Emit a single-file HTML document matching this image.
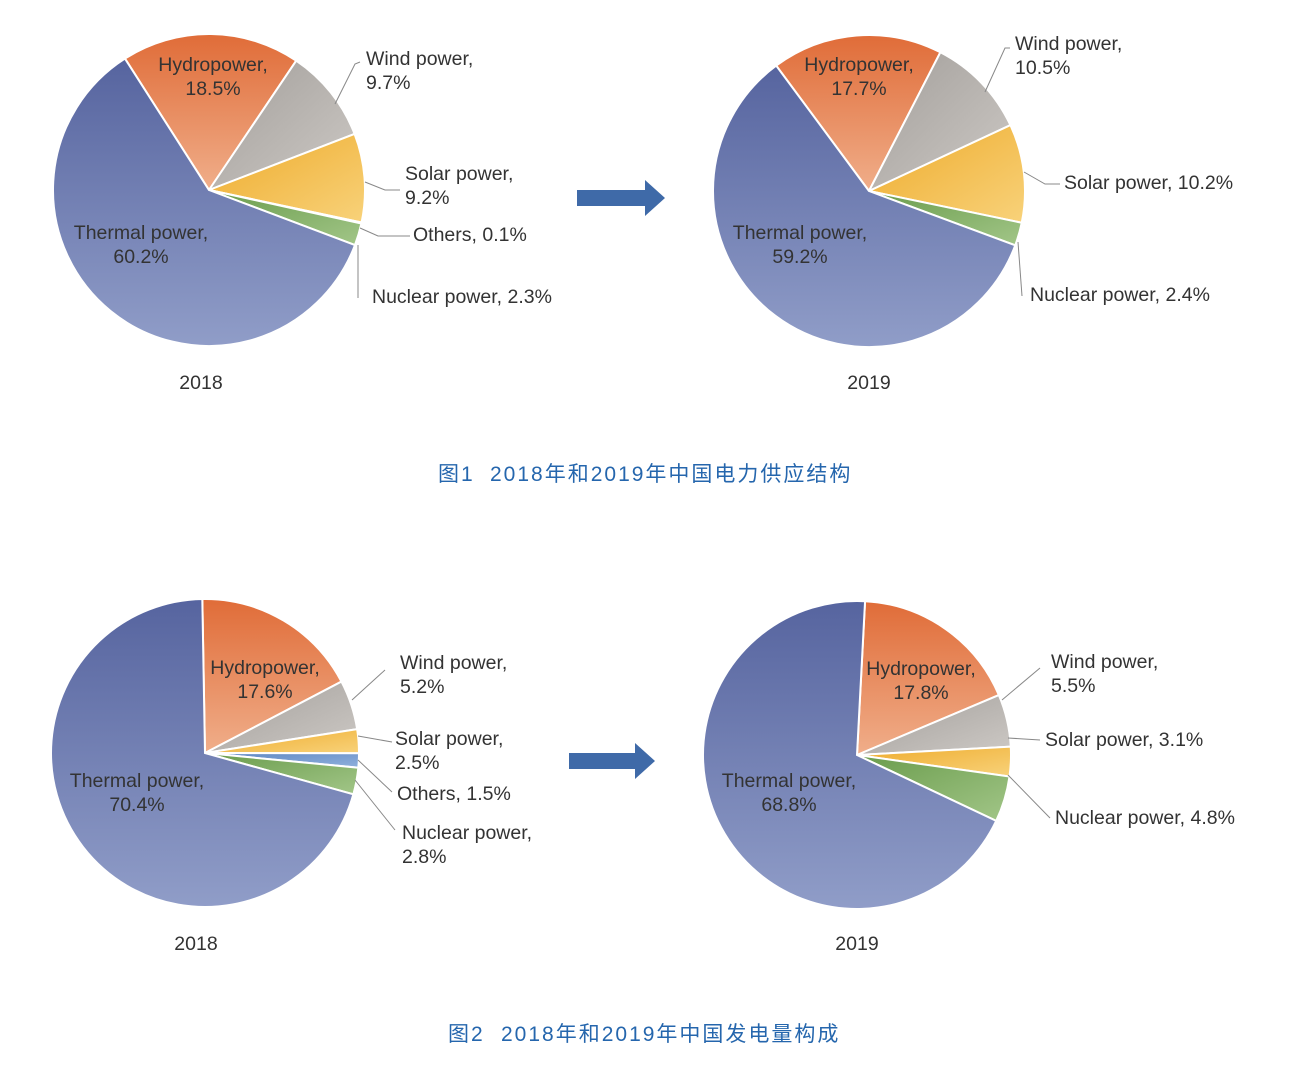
<!DOCTYPE html>
<html><head><meta charset="utf-8"><style>
body{margin:0;background:#fff;width:1310px;height:1069px;overflow:hidden}
svg text{font-family:"Liberation Sans","Noto Sans CJK SC",sans-serif;font-size:19.5px;fill:#333}
svg text.cap{fill:#2566ad;font-size:21px;letter-spacing:2px}
</style></head><body>
<svg id="s" width="1310" height="1069" xmlns="http://www.w3.org/2000/svg">
<defs>
<linearGradient id="gT" x1="0" y1="0" x2="0" y2="1"><stop offset="0" stop-color="#56649f"/><stop offset="1" stop-color="#909dc8"/></linearGradient>
<linearGradient id="gH" x1="0" y1="0" x2="0" y2="1"><stop offset="0" stop-color="#e06c38"/><stop offset="1" stop-color="#f0ae8a"/></linearGradient>
<linearGradient id="gW" x1="0" y1="0" x2="1" y2="1"><stop offset="0" stop-color="#a29e9a"/><stop offset="1" stop-color="#cdc9c5"/></linearGradient>
<linearGradient id="gS" x1="0" y1="0" x2="1" y2="1"><stop offset="0" stop-color="#eeab2c"/><stop offset="1" stop-color="#f8d27a"/></linearGradient>
<linearGradient id="gN" x1="0" y1="0" x2="1" y2="1"><stop offset="0" stop-color="#6a9c4c"/><stop offset="1" stop-color="#a2c688"/></linearGradient>
<linearGradient id="gO" x1="0" y1="0" x2="1" y2="1"><stop offset="0" stop-color="#5e86c2"/><stop offset="1" stop-color="#8fb0dc"/></linearGradient>
</defs>
<g id="pies"></g>
<g stroke="#888" stroke-width="1" fill="none">
<path d="M335 104 L355 64 L360 62"/><path d="M365 182 L385 190 L400 190"/><path d="M360 228 L378 236 L410 236"/><path d="M358 245 L358 298"/>
<path d="M985 92 L1005 48 L1010 48"/><path d="M1024 172 L1045 184 L1060 184"/><path d="M1018 242 L1022 296"/>
<path d="M352 700 L385 670"/><path d="M358 736 L392 742"/><path d="M358 760 L392 792"/><path d="M355 780 L395 830"/>
<path d="M1002 700 L1040 668"/><path d="M1008 738 L1040 740"/><path d="M1008 775 L1050 818"/>
</g>
<g>
<text x="213" y="71" text-anchor="middle">Hydropower,</text><text x="213" y="95" text-anchor="middle">18.5%</text>
<text x="366" y="65">Wind power,</text><text x="366" y="89">9.7%</text>
<text x="405" y="180">Solar power,</text><text x="405" y="204">9.2%</text>
<text x="413" y="241">Others, 0.1%</text>
<text x="372" y="303">Nuclear power, 2.3%</text>
<text x="141" y="239" text-anchor="middle">Thermal power,</text><text x="141" y="263" text-anchor="middle">60.2%</text>
<text x="201" y="389" text-anchor="middle">2018</text>

<text x="859" y="71" text-anchor="middle">Hydropower,</text><text x="859" y="95" text-anchor="middle">17.7%</text>
<text x="1015" y="50">Wind power,</text><text x="1015" y="74">10.5%</text>
<text x="1064" y="189">Solar power, 10.2%</text>
<text x="1030" y="301">Nuclear power, 2.4%</text>
<text x="800" y="239" text-anchor="middle">Thermal power,</text><text x="800" y="263" text-anchor="middle">59.2%</text>
<text x="869" y="389" text-anchor="middle">2019</text>

<text x="265" y="674" text-anchor="middle">Hydropower,</text><text x="265" y="698" text-anchor="middle">17.6%</text>
<text x="400" y="669">Wind power,</text><text x="400" y="693">5.2%</text>
<text x="395" y="745">Solar power,</text><text x="395" y="769">2.5%</text>
<text x="397" y="800">Others, 1.5%</text>
<text x="402" y="839">Nuclear power,</text><text x="402" y="863">2.8%</text>
<text x="137" y="787" text-anchor="middle">Thermal power,</text><text x="137" y="811" text-anchor="middle">70.4%</text>
<text x="196" y="950" text-anchor="middle">2018</text>

<text x="921" y="675" text-anchor="middle">Hydropower,</text><text x="921" y="699" text-anchor="middle">17.8%</text>
<text x="1051" y="668">Wind power,</text><text x="1051" y="692">5.5%</text>
<text x="1045" y="746">Solar power, 3.1%</text>
<text x="1055" y="824">Nuclear power, 4.8%</text>
<text x="789" y="787" text-anchor="middle">Thermal power,</text><text x="789" y="811" text-anchor="middle">68.8%</text>
<text x="857" y="950" text-anchor="middle">2019</text>

<text class="cap" x="438" y="481">图1</text><text class="cap" x="490" y="481">2018年和2019年中国电力供应结构</text>
<text class="cap" x="448" y="1041">图2</text><text class="cap" x="501" y="1041">2018年和2019年中国发电量构成</text>
</g>
<path d="M577 190 H645 V180 L665 198 L645 216 V206 H577 Z" fill="#3f6aa8"/>
<path d="M569 753 H635 V743 L655 761 L635 779 V769 H569 Z" fill="#3f6aa8"/>
</svg>
<script>
var pies=[
 {cx:209,cy:190,r:156,a0:-32.6,d:[["gH",18.5],["gW",9.7],["gS",9.2],["gO",0.1],["gN",2.3],["gT",60.2]]},
 {cx:869,cy:191,r:156,a0:-36.5,d:[["gH",17.7],["gW",10.5],["gS",10.2],["gN",2.4],["gT",59.2]]},
 {cx:205,cy:753,r:154,a0:-1,d:[["gH",17.6],["gW",5.2],["gS",2.5],["gO",1.5],["gN",2.8],["gT",70.4]]},
 {cx:857,cy:755,r:154,a0:3,d:[["gH",17.8],["gW",5.5],["gS",3.1],["gN",4.8],["gT",68.8]]}
];
var g=document.getElementById("pies"),h="";
pies.forEach(function(p){
 var tot=p.d.reduce(function(s,x){return s+x[1]},0),a=p.a0;
 p.d.forEach(function(x){
  var sw=x[1]/tot*360,b=a+sw;
  function pt(t){t=t*Math.PI/180;return [p.cx+p.r*Math.sin(t),p.cy-p.r*Math.cos(t)];}
  var s=pt(a),e=pt(b);
  h+='<path d="M'+p.cx+' '+p.cy+' L'+s[0].toFixed(2)+' '+s[1].toFixed(2)+' A'+p.r+' '+p.r+' 0 '+(sw>180?1:0)+' 1 '+e[0].toFixed(2)+' '+e[1].toFixed(2)+' Z" fill="url(#'+x[0]+')" stroke="#fff" stroke-width="2"/>';
  a=b;
 });
});
g.innerHTML=h;
</script>
</body></html>
